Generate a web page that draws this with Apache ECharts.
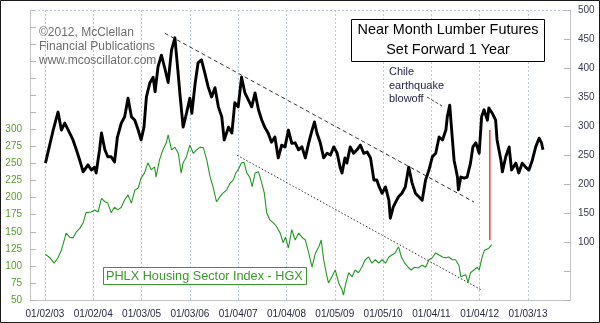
<!DOCTYPE html>
<html>
<head>
<meta charset="utf-8">
<script src="https://cdn.jsdelivr.net/npm/echarts@6/dist/echarts.min.js"></script>
<style>
  html, body { margin: 0; padding: 0; background: #fff; }
  #chart { width: 600px; height: 323px; }
</style>
</head>
<body>
<div id="chart"></div>
<script>
// Near month lumber futures, plotted one year forward: [decimal year, price]
const lumberForward = [
  [2003.01,236],[2003.17,293],[2003.27,324],[2003.34,293],[2003.41,305],[2003.51,288],[2003.58,276],
  [2003.65,259],[2003.72,241],[2003.79,221],[2003.89,233],[2003.96,224],[2004.03,229],[2004.06,219],
  [2004.13,259],[2004.17,288],[2004.24,259],[2004.30,247],[2004.37,247],[2004.44,238],[2004.50,281],
  [2004.58,305],[2004.65,316],[2004.72,348],[2004.79,316],[2004.86,310],[2004.93,293],[2004.99,276],
  [2005.05,298],[2005.10,350],[2005.17,374],[2005.24,384],[2005.28,359],[2005.34,402],[2005.41,422],
  [2005.48,400],[2005.55,375],[2005.62,431],[2005.69,452],[2005.75,397],[2005.80,350],[2005.86,298],
  [2005.93,322],[2006.00,348],[2006.04,322],[2006.11,374],[2006.17,409],[2006.24,414],[2006.31,391],
  [2006.38,367],[2006.45,350],[2006.52,366],[2006.59,333],[2006.66,316],[2006.71,276],[2006.80,298],
  [2006.87,288],[2006.93,340],[2007.00,333],[2007.07,384],[2007.14,357],[2007.21,345],[2007.28,333],
  [2007.35,357],[2007.42,328],[2007.49,310],[2007.55,298],[2007.62,288],[2007.69,272],[2007.76,281],
  [2007.83,245],[2007.90,267],[2007.97,264],[2008.04,293],[2008.11,270],[2008.18,271],[2008.25,259],
  [2008.32,264],[2008.39,245],[2008.46,271],[2008.53,293],[2008.58,307],[2008.63,288],[2008.70,271],
  [2008.77,245],[2008.84,253],[2008.91,250],[2008.98,264],[2009.05,253],[2009.11,229],[2009.15,219],
  [2009.21,245],[2009.25,236],[2009.32,264],[2009.39,253],[2009.46,259],[2009.53,267],[2009.60,253],
  [2009.67,255],[2009.74,245],[2009.81,207],[2009.87,207],[2009.92,195],[2009.98,184],[2010.05,195],
  [2010.12,172],[2010.15,141],[2010.21,160],[2010.25,167],[2010.32,178],[2010.39,184],[2010.46,195],
  [2010.53,229],[2010.60,202],[2010.67,184],[2010.74,178],[2010.81,172],[2010.88,207],[2010.95,224],
  [2011.02,247],[2011.09,253],[2011.16,281],[2011.23,276],[2011.30,293],[2011.33,316],[2011.38,336],
  [2011.42,293],[2011.47,241],[2011.54,212],[2011.56,190],[2011.61,212],[2011.68,210],[2011.74,212],
  [2011.81,236],[2011.86,264],[2011.92,271],[2011.99,253],[2012.04,316],[2012.09,328],[2012.16,310],
  [2012.19,331],[2012.26,322],[2012.33,310],[2012.36,276],[2012.44,241],[2012.47,221],[2012.54,247],
  [2012.61,264],[2012.66,224],[2012.75,236],[2012.81,219],[2012.88,236],[2012.95,229],[2013.02,224],
  [2013.09,241],[2013.16,264],[2013.23,279],[2013.28,271],[2013.31,259]
];

// PHLX Housing Sector Index (HGX): [decimal year, index level]
const hgx = [
  [2003.01,117],[2003.10,112],[2003.19,104],[2003.27,112],[2003.34,123],[2003.44,148],[2003.51,142],
  [2003.58,141],[2003.65,150],[2003.72,155],[2003.79,163],[2003.85,178],[2003.96,179],[2004.03,182],
  [2004.10,179],[2004.17,199],[2004.24,194],[2004.30,192],[2004.37,178],[2004.44,186],[2004.51,182],
  [2004.58,186],[2004.65,197],[2004.72,204],[2004.79,192],[2004.86,211],[2004.93,214],[2004.99,229],
  [2005.06,236],[2005.13,251],[2005.20,241],[2005.27,245],[2005.30,230],[2005.37,255],[2005.44,270],
  [2005.51,280],[2005.55,292],[2005.62,270],[2005.69,274],[2005.76,265],[2005.82,236],[2005.86,251],
  [2005.93,260],[2006.00,277],[2006.07,265],[2006.14,270],[2006.21,274],[2006.28,273],[2006.35,255],
  [2006.42,230],[2006.48,216],[2006.55,194],[2006.62,201],[2006.69,207],[2006.76,211],[2006.83,221],
  [2006.90,226],[2006.95,236],[2007.00,241],[2007.07,251],[2007.12,252],[2007.18,236],[2007.24,230],
  [2007.29,216],[2007.35,236],[2007.42,238],[2007.49,221],[2007.54,207],[2007.59,178],[2007.66,167],
  [2007.73,163],[2007.80,157],[2007.87,148],[2007.93,134],[2007.98,142],[2008.04,126],[2008.11,153],
  [2008.18,138],[2008.25,148],[2008.32,142],[2008.39,138],[2008.46,119],[2008.53,98],[2008.60,119],
  [2008.67,128],[2008.72,138],[2008.77,109],[2008.84,84],[2008.87,75],[2008.94,84],[2009.01,94],
  [2009.08,75],[2009.15,65],[2009.18,57],[2009.23,75],[2009.29,90],[2009.36,84],[2009.42,94],
  [2009.49,90],[2009.56,98],[2009.63,109],[2009.70,113],[2009.77,104],[2009.84,109],[2009.91,104],
  [2009.98,109],[2010.05,104],[2010.12,113],[2010.18,116],[2010.25,119],[2010.32,128],[2010.38,113],
  [2010.45,104],[2010.52,98],[2010.58,94],[2010.65,98],[2010.72,97],[2010.81,101],[2010.88,98],
  [2010.95,109],[2011.02,112],[2011.09,119],[2011.16,116],[2011.23,113],[2011.30,112],[2011.36,113],
  [2011.43,109],[2011.50,109],[2011.57,101],[2011.61,84],[2011.65,82],[2011.71,87],[2011.76,76],
  [2011.81,90],[2011.88,94],[2011.95,98],[2011.99,94],[2012.05,113],[2012.10,123],[2012.19,126],
  [2012.25,131]
];

// Trend channels and the gap marker
const lumberChannel = [[2005.48, 460], [2011.88, 169]];
const hgxChannel = [[2006.98, 262], [2012.03, 65]];
const gapMarker = [[2012.21, 293], [2012.21, 103]];

// Date axis ticks
const tickYears = [2003, 2004, 2005, 2006, 2007, 2008, 2009, 2010, 2011, 2012, 2013];
const tickLabels = ['01/02/03', '01/02/04', '01/03/05', '01/03/06', '01/04/07', '01/04/08',
                    '01/05/09', '01/05/10', '01/04/11', '01/04/12', '01/03/13'];

const FONT = '"Liberation Sans", Arial, Helvetica, sans-serif';
const chart = echarts.init(document.getElementById('chart'), null, { renderer: 'canvas' });

chart.setOption({
  backgroundColor: '#ffffff',
  animation: false,
  textStyle: { fontFamily: FONT },
  grid: { left: 30, right: 30, top: 10, bottom: 23, containLabel: false },
  xAxis: {
    type: 'value',
    min: 2002.69,
    max: 2013.87,
    axisLine: { show: true, lineStyle: { color: '#c4c4c4', width: 1 } },
    axisTick: { show: false, customValues: tickYears },
    axisLabel: {
      customValues: tickYears,
      formatter: v => tickLabels[tickYears.indexOf(Math.round(v))] || '',
      color: '#2b2b45', fontSize: 10, margin: 9, fontFamily: FONT
    },
    splitLine: { show: true, lineStyle: { color: '#b8c8d8', type: [2, 2], width: 1 } }
  },
  yAxis: [
    {
      type: 'value', position: 'left', min: 50, max: 475, interval: 25,
      axisLine: { show: true, lineStyle: { color: '#c4c4c4' } },
      axisTick: { show: true, inside: true, length: 6, lineStyle: { color: '#b4b4b4' } },
      axisLabel: {
        color: '#579c2c', fontSize: 10, margin: 8, fontFamily: FONT,
        formatter: v => (v <= 300 ? String(v) : '')
      },
      splitLine: { show: false }
    },
    {
      type: 'value', position: 'right', min: 0, max: 500, interval: 50,
      axisLine: { show: true, lineStyle: { color: '#c4c4c4' } },
      axisTick: { show: true, inside: true, length: 6, lineStyle: { color: '#b4b4b4' } },
      axisLabel: {
        color: '#3a3a55', fontSize: 10, margin: 8, fontFamily: FONT,
        formatter: v => (v >= 100 ? String(v) : '')
      },
      splitLine: { show: false }
    }
  ],
  series: [
    {
      name: 'HGX', type: 'line', yAxisIndex: 0, data: hgx,
      showSymbol: false, symbol: 'none',
      lineStyle: { color: '#229922', width: 1.1 }, z: 3
    },
    {
      name: 'Lumber', type: 'line', yAxisIndex: 1, data: lumberForward,
      showSymbol: false, symbol: 'none',
      lineStyle: { color: '#000000', width: 2.9, join: 'round' }, z: 4
    },
    {
      name: 'Lumber channel', type: 'line', yAxisIndex: 1, data: lumberChannel,
      symbol: 'none', lineStyle: { color: '#333333', width: 1, type: [4, 3] }, z: 5
    },
    {
      name: 'HGX channel', type: 'line', yAxisIndex: 0, data: hgxChannel,
      symbol: 'none', lineStyle: { color: '#333333', width: 1, type: [1.5, 2] }, z: 5
    },
    {
      name: 'Gap', type: 'line', yAxisIndex: 1, data: gapMarker,
      symbol: 'none', lineStyle: { color: '#f04040', width: 1.5 }, z: 6
    }
  ],
  graphic: [
    // outer frame
    { type: 'rect', shape: { x: 0.5, y: 0.5, width: 599, height: 322 },
      style: { fill: 'none', stroke: '#1a1a1a', lineWidth: 1 }, z: 100 },
    // dotted top edge of the plot
    { type: 'line', shape: { x1: 30, y1: 10.5, x2: 570, y2: 10.5 },
      style: { stroke: '#b8c8d8', lineWidth: 1, lineDash: [2, 2] }, z: 1 },
    // publisher credit
    { type: 'text', x: 39, y: 33, style: { text: '©2012, McClellan', font: '12px ' + FONT, fill: '#6e6e6e', verticalAlign: 'middle' }, z: 50 },
    { type: 'text', x: 39, y: 47, style: { text: 'Financial Publications', font: '12px ' + FONT, fill: '#6e6e6e', verticalAlign: 'middle' }, z: 50 },
    { type: 'text', x: 39, y: 61, style: { text: 'www.mcoscillator.com', font: '12px ' + FONT, fill: '#6e6e6e', verticalAlign: 'middle' }, z: 50 },
    // title box
    { type: 'rect', shape: { x: 351.5, y: 19.5, width: 193, height: 42 },
      style: { fill: '#ffffff', stroke: '#000000', lineWidth: 1 }, z: 50 },
    { type: 'text', x: 448, y: 30, style: { text: 'Near Month Lumber Futures', font: '14.4px ' + FONT, fill: '#000000', align: 'center', verticalAlign: 'middle' }, z: 51 },
    { type: 'text', x: 448, y: 50, style: { text: 'Set Forward 1 Year', font: '14.4px ' + FONT, fill: '#000000', align: 'center', verticalAlign: 'middle' }, z: 51 },
    // annotation
    { type: 'text', x: 389, y: 72, style: { text: 'Chile', font: '11px ' + FONT, fill: '#25254a', verticalAlign: 'middle' }, z: 50 },
    { type: 'text', x: 389, y: 85.5, style: { text: 'earthquake', font: '11px ' + FONT, fill: '#25254a', verticalAlign: 'middle' }, z: 50 },
    { type: 'text', x: 389, y: 98.5, style: { text: 'blowoff', font: '11px ' + FONT, fill: '#25254a', verticalAlign: 'middle' }, z: 50 },
    { type: 'line', shape: { x1: 427, y1: 97, x2: 442, y2: 106 },
      style: { stroke: '#444444', lineWidth: 1, lineDash: [3, 2] }, z: 50 },
    // HGX label box
    { type: 'rect', shape: { x: 103.5, y: 267.5, width: 203, height: 17 },
      style: { fill: '#ffffff', stroke: '#3a9a30', lineWidth: 1 }, z: 50 },
    { type: 'text', x: 106, y: 276.5, style: { text: 'PHLX Housing Sector Index - HGX', font: '12.7px ' + FONT, fill: '#3a9a2a', verticalAlign: 'middle' }, z: 51 }
  ]
});
</script>
</body>
</html>
